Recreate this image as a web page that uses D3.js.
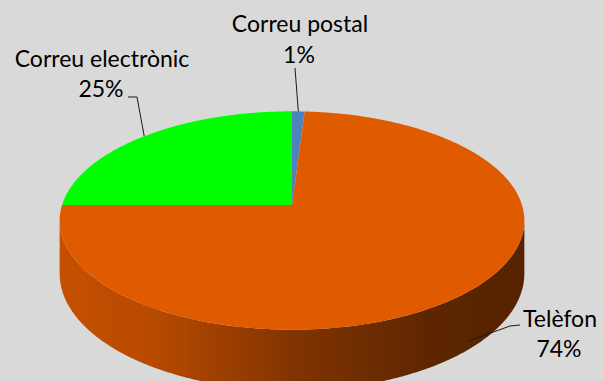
<!DOCTYPE html>
<html>
<head>
<meta charset="utf-8">
<script src="https://cdn.jsdelivr.net/npm/d3@7"></script>
<style>
  html, body { margin: 0; padding: 0; background: #d9d9d9; }
  svg { display: block; }
</style>
</head>
<body>
<script>
// Contact channels, in clockwise order from 12 o'clock
const categories = ["Correu postal", "Telèfon", "Correu electrònic"];
const values = [1, 74, 25];
const percentLabels = ["1%", "74%", "25%"];
const colors = ["#4f81bd", "#e05a00", "#00ff00"];

const W = 604, H = 381;

// Tilted disk, drawn with a light perspective (far edge compressed)
const geo = { cx: 292, cy: 205, S: 230, T: 107, k: 0.142, depth: 52 };

// Label placement: text anchor points and leader elbows
const labelLayout = [
  { name: [300, 32], pct: [299, 63], leader: [[295, 68]], onWall: false },
  { name: [560, 327], pct: [559, 357], leader: [[520, 325], [510, 326]], onWall: true },
  { name: [102, 67], pct: [101, 97], leader: [[128, 97], [137, 97]], onWall: false }
];

function proj(a, drop) {
  const u = Math.sin(a), v = Math.cos(a);
  const w = 1 + geo.k * v;
  return [geo.cx + geo.S * u / w, geo.cy - geo.T * v / w + (drop || 0) / w];
}

function arcPoints(a0, a1, drop) {
  const n = Math.max(2, Math.ceil(Math.abs(a1 - a0) / 0.01));
  return d3.range(n + 1).map(i => proj(a0 + (a1 - a0) * i / n, drop));
}

const svg = d3.select("body").append("svg")
  .attr("width", W).attr("height", H)
  .style("font-family", "Lato, 'Open Sans', sans-serif");

svg.append("rect").attr("width", W).attr("height", H).attr("fill", "#d9d9d9");

const pie = d3.pie().sort(null).value(d => d)(values);

const defs = svg.append("defs");
const xLeft = geo.cx - geo.S * 1.01, xRight = geo.cx + geo.S * 1.01;
pie.forEach((p, i) => {
  const c = d3.color(colors[i]);
  const g = defs.append("linearGradient")
    .attr("id", "wall" + i)
    .attr("gradientUnits", "userSpaceOnUse")
    .attr("x1", xLeft).attr("x2", xRight).attr("y1", 0).attr("y2", 0);
  [[0, 0.35], [0.2, 0.55], [0.5, 1.55], [0.8, 2.45], [1, 2.7]].forEach(([o, k]) => {
    g.append("stop").attr("offset", o).attr("stop-color", c.darker(k).formatHex());
  });
});

// Visible part of the side wall lies between the silhouette points
const visA0 = Math.acos(-geo.k), visA1 = 2 * Math.PI - Math.acos(-geo.k);
const line = d3.line();

const walls = svg.append("g");
pie.forEach((p, i) => {
  const s = Math.max(p.startAngle, visA0), e = Math.min(p.endAngle, visA1);
  if (e <= s) return;
  const top = arcPoints(s, e, 0);
  const bottom = arcPoints(e, s, geo.depth);
  walls.append("path")
    .attr("d", line(top.concat(bottom)) + "Z")
    .attr("fill", `url(#wall${i})`);
});

const tops = svg.append("g");
pie.forEach((p, i) => {
  const pts = [[geo.cx, geo.cy]].concat(arcPoints(p.startAngle, p.endAngle, 0));
  tops.append("path")
    .attr("d", line(pts) + "Z")
    .attr("fill", colors[i]);
});

// Leader lines and labels
const labels = svg.append("g");
pie.forEach((p, i) => {
  const L = labelLayout[i];
  const mid = (p.startAngle + p.endAngle) / 2;
  const end = L.onWall ? proj(mid, geo.depth * 0.85) : proj(mid, 0);
  labels.append("path")
    .attr("d", line(L.leader.concat([end])))
    .attr("fill", "none")
    .attr("stroke", "#1a1a1a")
    .attr("stroke-width", 1);
  labels.append("text")
    .attr("x", L.name[0]).attr("y", L.name[1])
    .attr("text-anchor", "middle")
    .attr("font-size", 23)
    .attr("fill", "#000")
    .text(categories[i]);
  labels.append("text")
    .attr("x", L.pct[0]).attr("y", L.pct[1])
    .attr("text-anchor", "middle")
    .attr("font-size", 23)
    .attr("fill", "#000")
    .text(percentLabels[i]);
});
</script>
</body>
</html>
